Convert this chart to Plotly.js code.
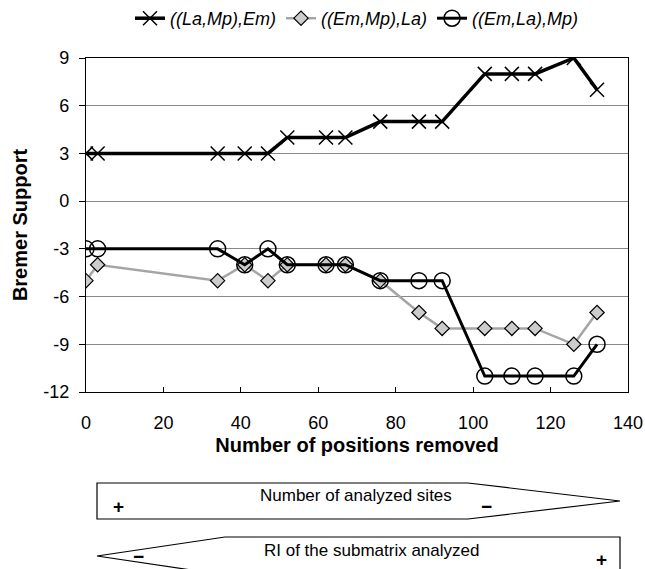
<!DOCTYPE html>
<html>
<head>
<meta charset="utf-8">
<script src="https://cdn.plot.ly/plotly-3.0.1.min.js"></script>
<style>html,body{margin:0;padding:0;background:#fff;}#chart{width:645px;height:569px;}</style>
</head>
<body>
<div id="chart"></div>
<script>
// Data
const positionsRemoved = [0, 3, 34, 41, 47, 52, 62, 67, 76, 86, 92, 103, 110, 116, 126, 132];
const laMpEm = [3, 3, 3, 3, 3, 4, 4, 4, 5, 5, 5, 8, 8, 8, 9, 7];
const emMpLa = [-5, -4, -5, -4, -5, -4, -4, -4, -5, -7, -8, -8, -8, -8, -9, -7];
const emLaMp = [-3, -3, -3, -4, -3, -4, -4, -4, -5, -5, -5, -11, -11, -11, -11, -9];
const seriesNames = ['((La,Mp),Em)', '((Em,Mp),La)', '((Em,La),Mp)'];
const yTicks = [-12, -9, -6, -3, 0, 3, 6, 9];
const xTicks = [0, 20, 40, 60, 80, 100, 120, 140];

const W = 645, H = 569;
const L = 86, R = 628, T = 58, B = 392;
const px = x => (x - L) / (R - L);
const py = y => (B - y) / (B - T);

const traces = [
  {x: positionsRemoved, y: laMpEm, name: seriesNames[0], mode: 'lines+markers',
   line: {color: '#000', width: 3.5},
   marker: {symbol: 'x-thin-open', size: 14, color: '#000', line: {color: '#000', width: 1.5}}},
  {x: positionsRemoved, y: emMpLa, name: seriesNames[1], mode: 'lines+markers',
   line: {color: '#a5a5a5', width: 2.5},
   marker: {symbol: 'diamond', size: 11, color: '#cccccc', line: {color: '#000', width: 1.2}}},
  {x: positionsRemoved, y: emLaMp, name: seriesNames[2], mode: 'lines+markers',
   line: {color: '#000', width: 3},
   marker: {symbol: 'circle-open', size: 16, color: '#000', line: {color: '#000', width: 1.5}}}
];

const font = {family: 'Liberation Sans, Arial, sans-serif', color: '#000'};

const shapes = [
  // top arrow (pointing right)
  {type: 'path', xref: 'paper', yref: 'paper',
   path: `M ${px(97)} ${py(483)} L ${px(468)} ${py(483)} L ${px(620)} ${py(501)} L ${px(468)} ${py(519)} L ${px(97)} ${py(519)} Z`,
   line: {color: '#000', width: 1.2}, fillcolor: 'rgba(0,0,0,0)'},
  // bottom arrow (pointing left)
  {type: 'path', xref: 'paper', yref: 'paper',
   path: `M ${px(620)} ${py(571)} L ${px(620)} ${py(537)} L ${px(225)} ${py(537)} L ${px(97)} ${py(556)} L ${px(225)} ${py(575)}`,
   line: {color: '#000', width: 1.2}, fillcolor: 'rgba(0,0,0,0)'}
];

const ann = (x, y, text, size, bold) => ({
  xref: 'paper', yref: 'paper', x: px(x), y: py(y), text: bold ? '<b>' + text + '</b>' : text,
  showarrow: false, xanchor: 'center', yanchor: 'middle',
  font: Object.assign({}, font, {size: size})
});

const annotations = [
  ann(356, 495, 'Number of analyzed sites', 17),
  ann(118, 506, '+', 19, true),
  ann(486, 507, '−', 19, true),
  ann(371, 550, 'RI of the submatrix analyzed', 17),
  ann(138, 556, '−', 19, true),
  ann(601, 559, '+', 19, true)
];

const layout = {
  width: W, height: H,
  margin: {l: L, r: W - R, t: T, b: H - B, autoexpand: false},
  paper_bgcolor: '#fff', plot_bgcolor: '#fff',
  font: Object.assign({}, font, {size: 18}),
  showlegend: true,
  legend: {orientation: 'h', x: 0.5, xanchor: 'center', y: py(0), yanchor: 'top',
           font: Object.assign({}, font, {size: 18, style: 'italic'}),
           itemwidth: 30, tracegroupgap: 0, traceorder: 'normal'},
  xaxis: {range: [0, 140], tickvals: xTicks, ticktext: xTicks.map(String),
          showgrid: false, zeroline: false, showline: true, linecolor: '#000', linewidth: 1.2,
          mirror: true, ticks: 'inside', ticklen: 5, tickcolor: '#000',
          ticklabelstandoff: 14,
          tickfont: Object.assign({}, font, {size: 18}),
          title: {text: '<b>Number of positions removed</b>', font: Object.assign({}, font, {size: 20}), standoff: 6}},
  yaxis: {range: [-12, 9], tickvals: yTicks, ticktext: yTicks.map(String),
          showgrid: true, gridcolor: '#888', gridwidth: 1, zeroline: false,
          showline: true, linecolor: '#000', linewidth: 1.2, mirror: true,
          ticks: 'outside', ticklen: 6, tickcolor: '#000',
          ticklabelstandoff: 6,
          tickfont: Object.assign({}, font, {size: 18}),
          title: {text: '<b>Bremer Support</b>', font: Object.assign({}, font, {size: 20}), standoff: 10}},
  shapes: shapes,
  annotations: annotations
};

Plotly.newPlot('chart', traces, layout, {displayModeBar: false, staticPlot: true});
</script>
</body>
</html>
